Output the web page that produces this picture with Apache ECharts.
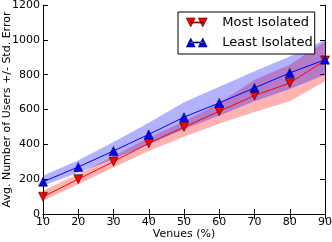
<!DOCTYPE html>
<html>
<head>
<meta charset="utf-8">
<script src="https://cdn.jsdelivr.net/npm/echarts@6/dist/echarts.min.js"></script>
<style>
html,body{margin:0;padding:0;background:#fff;}
#c{width:332px;height:242px;}
</style>
</head>
<body>
<div id="c"></div>
<script>
const venues = [10, 20, 30, 40, 50, 60, 70, 80, 90];
const mostMean  = [99, 200, 301, 406, 499, 590, 680, 752, 882];
const mostLower = [76, 171, 267, 362, 444, 520, 585, 648, 762];
const mostUpper = [133, 229, 333, 438, 533, 638, 771, 857, 990];
const leastMean  = [185, 270, 362, 457, 556, 638, 724, 810, 886];
const leastLower = [162, 238, 314, 400, 486, 566, 648, 718, 800];
const leastUpper = [219, 309, 413, 524, 642, 730, 819, 905, 1000];
const yMin = 0, yMax = 1200, yStep = 200;

const FONT = 'DejaVu Sans';
const TICK_FS = 11;
const cats = venues.map(String);

const downTri = 'path://M0 0 L9 0 L4.5 9 Z M4.5 3.9 L16.5 3.9 L16.5 5.1 L4.5 5.1 Z M12 0 L21 0 L16.5 9 Z';
const upTri = 'path://M0 9 L9 9 L4.5 0 Z M4.5 3.9 L16.5 3.9 L16.5 5.1 L4.5 5.1 Z M12 9 L21 9 L16.5 0 Z';

function band(name, lower, upper, color, stack, z) {
  return [
    {
      name: name + '_lo', type: 'line', stack: stack, data: lower,
      symbol: 'none', lineStyle: {opacity: 0}, silent: true, z: z
    },
    {
      name: name + '_band', type: 'line', stack: stack,
      data: upper.map((u, i) => u - lower[i]),
      symbol: 'none', lineStyle: {opacity: 0},
      areaStyle: {color: color, opacity: 1}, silent: true, z: z
    }
  ];
}

const chart = echarts.init(document.getElementById('c'), null, {renderer: 'canvas'});
const axisCommon = {
  axisLine: {show: true, lineStyle: {color: '#000', width: 1}},
  axisTick: {show: true, inside: true, length: 5, lineStyle: {color: '#000'}},
  splitLine: {show: false}
};
chart.setOption({
  animation: false,
  backgroundColor: '#fff',
  grid: {left: 43, right: 7, top: 5, bottom: 28, containLabel: false, outerBoundsMode: 'none'},
  legend: {
    data: [
      {name: 'Most Isolated', icon: downTri},
      {name: 'Least Isolated', icon: upTri}
    ],
    orient: 'vertical', left: 178, top: 12,
    padding: [4, 2, 5, 8],
    itemWidth: 21, itemHeight: 9, itemGap: 7,
    borderColor: '#000', borderWidth: 1, backgroundColor: '#fff',
    itemStyle: {borderWidth: 0.5, borderColor: '#000'},
    textStyle: {fontFamily: FONT, fontSize: 13, color: '#000', padding: [0, 0, 0, 10]}
  },
  xAxis: [
    Object.assign({}, axisCommon, {
      type: 'category', data: cats, boundaryGap: false, position: 'bottom',
      axisLabel: {fontFamily: FONT, fontSize: TICK_FS, color: '#000', margin: 3, interval: 0},
      axisTick: Object.assign({}, axisCommon.axisTick, {interval: 0}),
      name: 'Venues (%)', nameLocation: 'middle', nameGap: 15, nameMoveOverlap: false,
      nameTextStyle: {fontFamily: FONT, fontSize: 11, color: '#000'}
    }),
    Object.assign({}, axisCommon, {
      type: 'category', data: cats, boundaryGap: false, position: 'top',
      axisLabel: {show: false},
      axisTick: Object.assign({}, axisCommon.axisTick, {interval: 0})
    })
  ],
  yAxis: [
    Object.assign({}, axisCommon, {
      type: 'value', min: yMin, max: yMax, interval: yStep, position: 'left',
      axisLabel: {fontFamily: FONT, fontSize: TICK_FS, color: '#000', margin: 3, formatter: v => String(v)},
      name: 'Avg. Number of Users +/- Std. Error', nameLocation: 'middle', nameGap: 30, nameMoveOverlap: false,
      nameTextStyle: {fontFamily: FONT, fontSize: 11, color: '#000'}
    }),
    Object.assign({}, axisCommon, {
      type: 'value', min: yMin, max: yMax, interval: yStep, position: 'right',
      axisLabel: {show: false}
    })
  ],
  series: [
    ...band('most', mostLower, mostUpper, 'rgba(255,0,0,0.3)', 'rb', 1),
    ...band('least', leastLower, leastUpper, 'rgba(0,0,255,0.3)', 'bb', 2),
    {
      name: 'Most Isolated', type: 'line', data: mostMean, z: 5,
      symbol: 'triangle', symbolRotate: 180, symbolSize: 9,
      lineStyle: {color: '#ff0000', width: 1},
      itemStyle: {color: '#ff0000', borderColor: '#000', borderWidth: 0.5}
    },
    {
      name: 'Least Isolated', type: 'line', data: leastMean, z: 6,
      symbol: 'triangle', symbolSize: 9,
      lineStyle: {color: '#0000ff', width: 1},
      itemStyle: {color: '#0000ff', borderColor: '#000', borderWidth: 0.5}
    }
  ]
});
</script>
</body>
</html>
